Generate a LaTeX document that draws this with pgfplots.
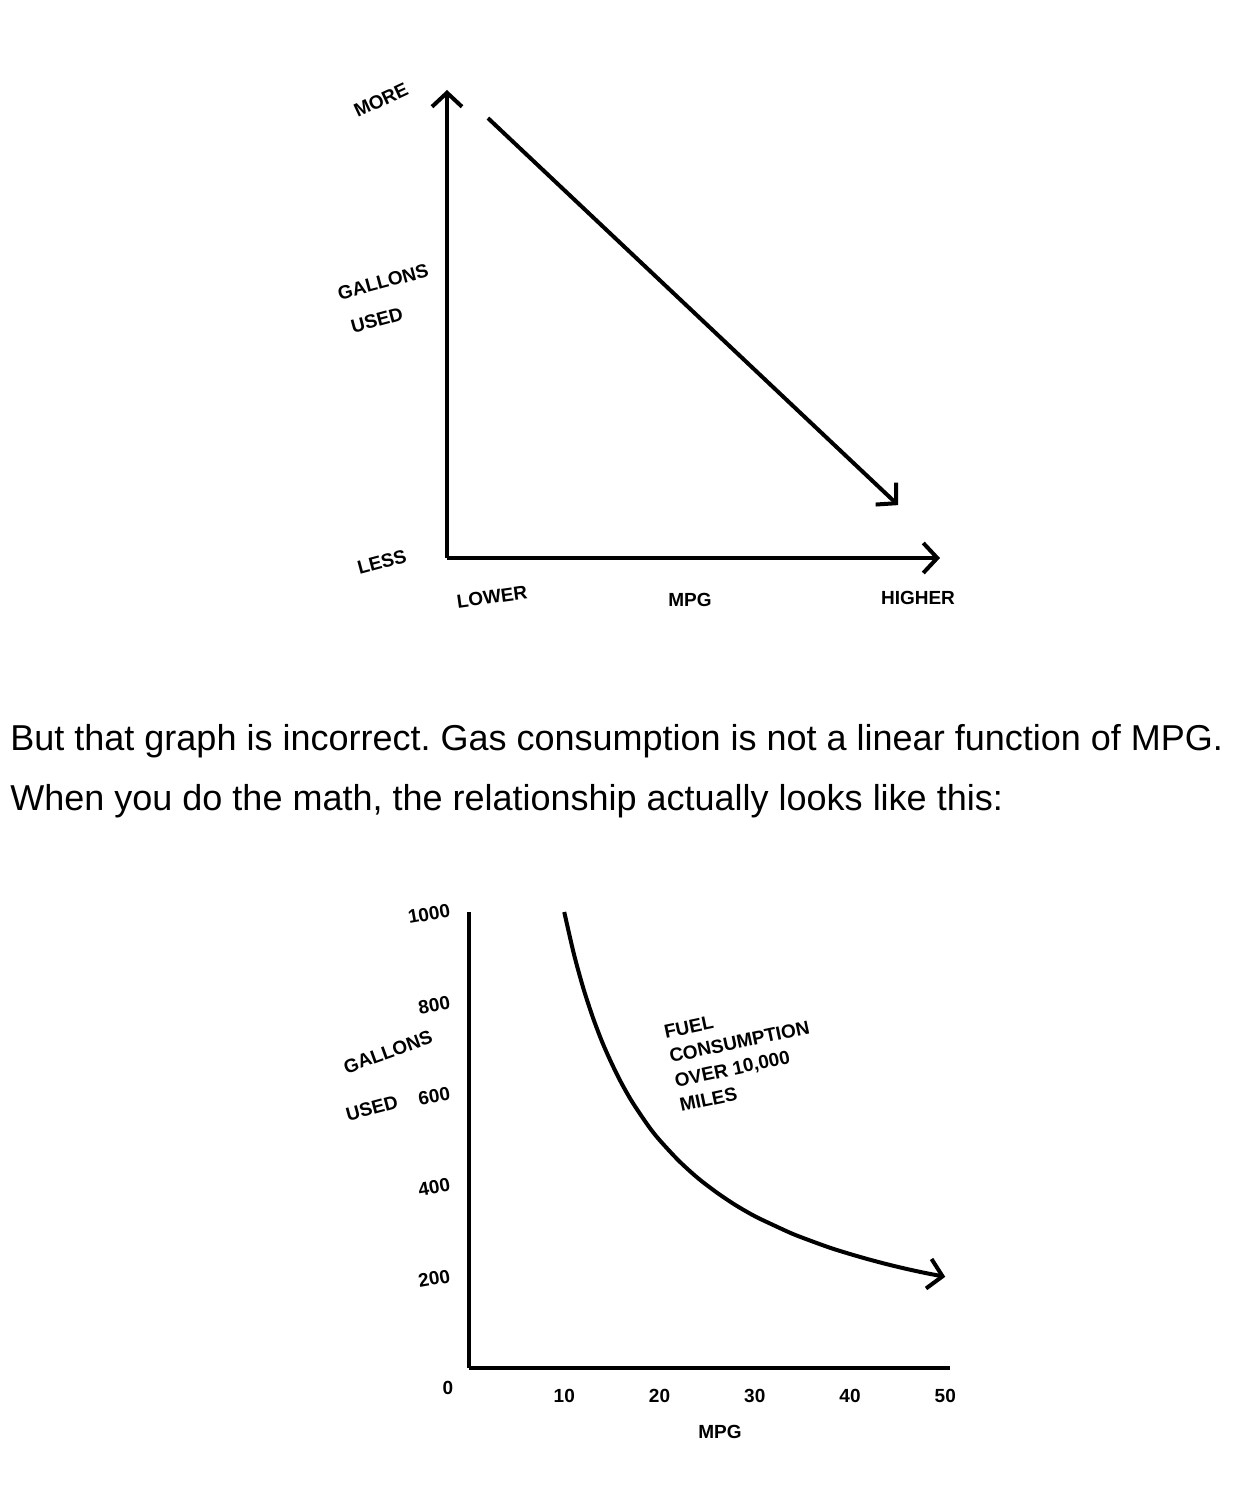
\documentclass[border=0pt]{standalone}
\usepackage{fontspec}
\setmainfont{Liberation Sans}
\usepackage{pgfplots}
\pgfplotsset{compat=1.18}
\usetikzlibrary{arrows.meta}
\frenchspacing

% hand-lettered labels of the sketches
\newcommand{\hand}{\bfseries\fontsize{9.5}{12.5}\selectfont}
\tikzset{barb/.style={-{Straight Barb[length=7pt,width=15pt,line width=2pt]}}}

\begin{document}
\begin{tikzpicture}
\path[use as bounding box] (0,0) rectangle (623pt,-746pt);

% first sketch: the linear guess
\begin{axis}[
    at={(223.5pt,-279pt)}, anchor=south west,
    scale only axis, width=246.5pt, height=234pt,
    xmin=0, xmax=1, ymin=0, ymax=1,
    axis lines=left,
    axis line style={line width=2pt, barb},
    xtick=\empty, ytick=\empty,
    clip=false,
]
\addplot[line width=2pt, barb] coordinates {(0.083,0.94) (0.915,0.113)};
\end{axis}

% second sketch: gallons over 10,000 miles
\begin{axis}[
    at={(234.5pt,-684pt)}, anchor=south west,
    scale only axis, width=240.5pt, height=228pt,
    xmin=0, xmax=50.5, ymin=0, ymax=1000,
    axis lines=left,
    axis line style={line width=2pt, -},
    xtick={10,20,30,40,50}, xticklabels={10,20,30,40,50},
    ytick={200,400,600,800,1000}, yticklabels={200,400,600,800,1000},
    major tick length=0pt,
    xticklabel style={font=\hand, yshift=-7pt},
    yticklabel style={font=\hand, rotate=10, xshift=-5pt},
    clip=false,
]
\addplot[line width=2pt, smooth, barb] coordinates {
    (10,1000) (11,909) (12,833) (13,769) (14,714) (15,667) (16,625)
    (17,588) (18,556) (19,526) (20,500) (22,455) (24,417) (26,385)
    (28,357) (30,333) (32,313) (34,294) (36,278) (38,263) (40,250)
    (42,238) (44,227) (46,217) (48,208) (50,200)
};
\end{axis}

\begin{scope}[x=0.5pt, y=-0.5pt, font=\hand]
% labels of the first sketch
\node[rotate=25] at (381,100) {MORE};
\node[rotate=15] at (383,282) {GALLONS};
\node[rotate=15] at (377,320) {USED};
\node[rotate=15] at (382,562) {LESS};
\node[rotate=8] at (492,597) {LOWER};
\node at (690,600) {MPG};
\node at (918,598) {HIGHER};
% labels of the second sketch
\node at (448,1388) {0};
\node[rotate=20] at (388,1052) {GALLONS};
\node[rotate=15] at (372,1108) {USED};
\node[rotate=12, align=left] at (742,1054) {FUEL\\CONSUMPTION\\OVER 10,000\\MILES};
\node at (720,1432) {MPG};
\end{scope}

% prose between the sketches
\node[anchor=base west, inner sep=0pt, font=\fontsize{18}{21}\selectfont]
    at (5pt,-375pt) {But that graph is incorrect. Gas consumption is not a linear function of MPG.};
\node[anchor=base west, inner sep=0pt, font=\fontsize{18}{21}\selectfont]
    at (5pt,-405pt) {When you do the math, the relationship actually looks like this:};
\end{tikzpicture}
\end{document}
